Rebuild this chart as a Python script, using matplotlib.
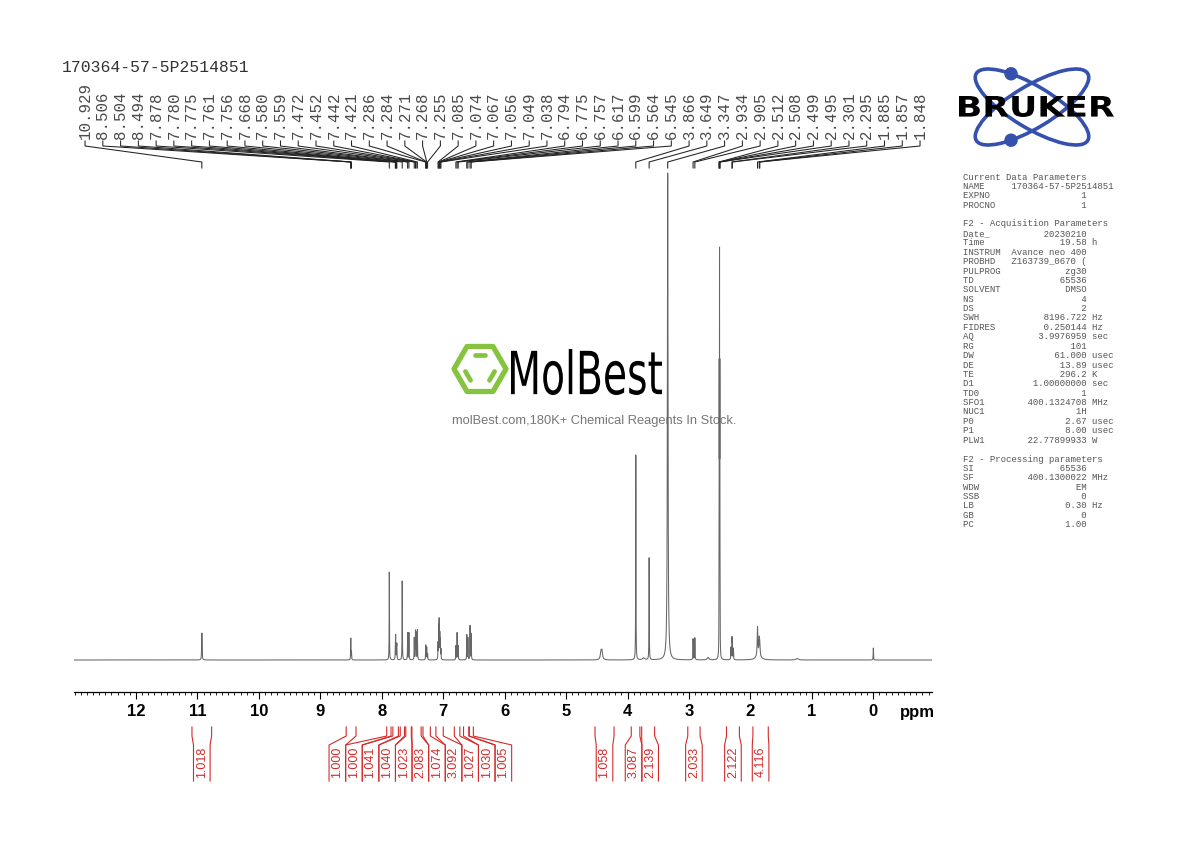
import numpy as np
import matplotlib
matplotlib.use("Agg")
import matplotlib.pyplot as plt
from matplotlib.patches import Ellipse, Circle, Polygon, PathPatch
from matplotlib.textpath import TextPath
from matplotlib.font_manager import FontProperties
from matplotlib.transforms import Affine2D
from matplotlib.ticker import MultipleLocator

W, H = 1190, 842
SAMPLE = "170364-57-5P2514851"

# ---------------------------------------------------------------------------
# data
# ---------------------------------------------------------------------------
# peak-picking labels along the top (ppm)
peak_labels = [10.929, 8.506, 8.504, 8.494, 7.878, 7.780, 7.775, 7.761, 7.756,
               7.668, 7.580, 7.559, 7.472, 7.452, 7.442, 7.421, 7.286, 7.284,
               7.271, 7.268, 7.255, 7.085, 7.074, 7.067, 7.056, 7.049, 7.038,
               6.794, 6.775, 6.757, 6.617, 6.599, 6.564, 6.545, 3.866, 3.649,
               3.347, 2.934, 2.905, 2.512, 2.508, 2.499, 2.495, 2.301, 2.295,
               1.885, 1.857, 1.848]

# spectrum lines: shift (ppm), height (arb.), half width (ppm)
line_ppm = [10.929, 8.506, 8.504, 8.494, 7.878, 7.780, 7.775, 7.761, 7.756,
            7.668, 7.580, 7.559, 7.472, 7.452, 7.442, 7.421, 7.286, 7.284,
            7.271, 7.268, 7.255, 7.085, 7.074, 7.067, 7.056, 7.049, 7.038,
            6.794, 6.775, 6.757, 6.617, 6.599, 6.564, 6.545,
            4.433, 4.418, 3.866, 3.740, 3.649, 3.347, 2.934, 2.905, 2.690,
            2.512, 2.508, 2.5035, 2.499, 2.495, 2.318, 2.301, 2.295, 2.278,
            1.885, 1.870, 1.857, 1.848, 1.240, 0.000]
line_height = [27, 13, 12, 8, 88, 14, 22, 12, 14,
               79, 27, 27, 22, 28, 26, 30, 9, 8,
               9, 8, 6, 16, 30, 37, 24, 18, 10,
               14, 27, 14, 25, 22, 34, 26,
               7, 8, 205, 2, 102, 487, 21, 22, 2.5,
               60, 250, 360, 250, 60, 12, 20, 14, 11,
               28, 5, 15, 10, 1.5, 12]
line_width = [0.004] + [0.0025] * 33 + \
             [0.012, 0.012, 0.0025, 0.02, 0.0025, 0.006, 0.003, 0.003, 0.015,
              0.0015, 0.0015, 0.0015, 0.0015, 0.0015, 0.003, 0.003, 0.003, 0.003,
              0.006, 0.04, 0.006, 0.006, 0.02, 0.003]

# integrals: region edges (ppm) and value
int_left = [11.09, 8.58, 7.92, 7.82, 7.70, 7.61, 7.51, 7.33, 7.12, 6.82, 6.67, 6.575,
            4.53, 3.94, 3.77, 3.02, 2.39, 1.96]
int_right = [10.77, 8.42, 7.85, 7.73, 7.63, 7.52, 7.36, 7.21, 7.00, 6.73, 6.585, 6.51,
             4.22, 3.80, 3.56, 2.82, 2.18, 1.71]
int_value = ["1.018", "1.000", "1.000", "1.041", "1.040", "1.023", "2.083", "1.074",
             "3.092", "1.027", "1.030", "1.005", "1.058", "3.087", "2.139", "2.033",
             "2.122", "4.116"]

tick_values = list(range(12, -1, -1))

params = [
    ("Current Data Parameters", None, None),
    ("NAME", SAMPLE, ""), ("EXPNO", "1", ""), ("PROCNO", "1", ""),
    ("", None, None),
    ("F2 - Acquisition Parameters", None, None),
    ("Date_", "20230210", ""), ("Time", "19.58", "h"),
    ("INSTRUM", "Avance neo 400", ""), ("PROBHD", "Z163739_0670 (", ""),
    ("PULPROG", "zg30", ""), ("TD", "65536", ""), ("SOLVENT", "DMSO", ""),
    ("NS", "4", ""), ("DS", "2", ""), ("SWH", "8196.722", "Hz"),
    ("FIDRES", "0.250144", "Hz"), ("AQ", "3.9976959", "sec"), ("RG", "101", ""),
    ("DW", "61.000", "usec"), ("DE", "13.89", "usec"), ("TE", "296.2", "K"),
    ("D1", "1.00000000", "sec"), ("TD0", "1", ""), ("SFO1", "400.1324708", "MHz"),
    ("NUC1", "1H", ""), ("P0", "2.67", "usec"), ("P1", "8.00", "usec"),
    ("PLW1", "22.77899933", "W"),
    ("", None, None),
    ("F2 - Processing parameters", None, None),
    ("SI", "65536", ""), ("SF", "400.1300022", "MHz"), ("WDW", "EM", ""),
    ("SSB", "0", ""), ("LB", "0.30", "Hz"), ("GB", "0", ""), ("PC", "1.00", ""),
]

MONO = "Liberation Mono"
SANS = "Liberation Sans"
RED = "#d42a2a"

fig = plt.figure(figsize=(W / 100, H / 100), dpi=100)

# decoration layer in pixel coordinates
deco = fig.add_axes([0, 0, 1, 1])
deco.set_xlim(0, W)
deco.set_ylim(H, 0)
deco.axis("off")
deco.set_zorder(1)

# spectrum axes
X0, X1, YB, YT = 74, 931.7, 692, 60
ax = fig.add_axes([X0 / W, (H - YB) / H, (X1 - X0) / W, (YB - YT) / H])
ax.set_zorder(2)
ax.patch.set_alpha(0)
ax.set_xlim(13.01, -0.95)
ax.set_ylim(-32, 600)


def ypx(p):
    # pixel row -> data y (baseline sits at row 660)
    return 660 - p


# ---- spectrum ------------------------------------------------------------
x = np.linspace(13.01, -0.95, 90000)
y = np.zeros_like(x)
for p, h, w in zip(line_ppm, line_height, line_width):
    y += h / (1 + ((x - p) / w) ** 2)
ax.plot(x, y, color="#666666", lw=0.75)

for s in ("top", "left", "right"):
    ax.spines[s].set_visible(False)
ax.spines["bottom"].set_linewidth(0.9)
ax.set_yticks([])
ax.set_xticks(tick_values)
ax.set_xticklabels([str(t) for t in tick_values], fontfamily=SANS, fontweight="bold")
ax.xaxis.set_minor_locator(MultipleLocator(0.1))
ax.tick_params(axis="x", which="major", direction="out", length=5, width=0.8,
               labelsize=12, pad=3.5)
ax.tick_params(axis="x", which="minor", direction="out", length=2.5, width=0.6)
deco.text(917, 712, "ppm", fontsize=12, fontweight="bold", family=SANS,
          ha="center", va="center")

# ---- peak labels -----------------------------------------------------------
lab_x = np.linspace(12.83, -0.76, len(peak_labels))
for lx, p in zip(lab_x, peak_labels):
    ax.text(lx, ypx(139), f"{p:.3f}", rotation=90, ha="center", va="bottom",
            fontsize=11.3, family=MONO, color="#4a4a4a")
    ax.plot([lx, lx, p, p], [ypx(141), ypx(146), ypx(162), ypx(168)],
            color="#222222", lw=0.75, clip_on=False)

# ---- integrals -------------------------------------------------------------
gap = 16.6 / 61.44
centers = [-(a + b) / 2 for a, b in zip(int_left, int_right)]


def spread(c, g):
    groups = [[i] for i in range(len(c))]

    def first(gr):
        return np.mean([c[i] for i in gr]) - (len(gr) - 1) / 2 * g

    merged = True
    while merged:
        merged = False
        for k in range(len(groups) - 1):
            last = first(groups[k]) + (len(groups[k]) - 1) * g
            if first(groups[k + 1]) - last < g - 1e-9:
                groups[k] = groups[k] + groups[k + 1]
                del groups[k + 1]
                merged = True
                break
    out = []
    for gr in groups:
        f = first(gr)
        out += [f + j * g for j in range(len(gr))]
    return out


slots = [-u for u in spread(centers, gap)]
for a, b, s, v in zip(int_left, int_right, slots, int_value):
    for edge, se in ((a, s + gap / 2), (b, s - gap / 2)):
        ax.plot([edge, edge, se, se], [ypx(727), ypx(736), ypx(745), ypx(781)],
                color=RED, lw=0.8, clip_on=False)
    ax.text(s, ypx(762), v, rotation=90, ha="center", va="center",
            fontsize=9, family=SANS, color=RED)

# ---- title & parameter block ----------------------------------------------
deco.text(62, 68, SAMPLE, fontsize=11.8, family=MONO, color="#333333",
          ha="left", va="center")
for i, (name, val, unit) in enumerate(params):
    if val is None:
        line = name
    else:
        line = f"{name:<9}{val:>14}" + (f" {unit}" if unit else "")
    deco.text(963, 177 + i * 9.4, line, fontsize=6.5, family=MONO,
              color="#555555", ha="left", va="center")

# ---- Bruker logo -----------------------------------------------------------
BLUE = "#3550ad"
cx, cy, ea, eb, th = 1032, 107, 65, 21, 31
for ang in (th, -th):
    deco.add_patch(Ellipse((cx, cy), 2 * ea, 2 * eb, angle=ang, fill=False,
                           ec=BLUE, lw=2.6))
t = np.linspace(0, 2 * np.pi, 2000)
for ang, pick in ((th, np.argmin), (-th, np.argmax)):
    r = np.radians(ang)
    ex = cx + ea * np.cos(t) * np.cos(r) - eb * np.sin(t) * np.sin(r)
    ey = cy + ea * np.cos(t) * np.sin(r) + eb * np.sin(t) * np.cos(r)
    near = np.abs(ex - (cx - 20)) < 1.0
    idx = np.where(near)[0]
    j = idx[pick(ey[idx])]
    deco.add_patch(Circle((ex[j], ey[j]), 6, color=BLUE))


def text_box(s, box, prop, color):
    tp = TextPath((0, 0), s, size=1, prop=prop)
    bb = tp.get_extents()
    x0, y0, x1, y1 = box
    tr = (Affine2D().translate(-bb.x0, -bb.y0)
          .scale((x1 - x0) / bb.width, -(y1 - y0) / bb.height)
          .translate(x0, y1))
    deco.add_patch(PathPatch(tr.transform_path(tp), fc=color, lw=0))


text_box("BRUKER", (959, 96, 1114, 117),
         FontProperties(family="DejaVu Sans", weight="bold"), "black")

# ---- MolBest watermark -----------------------------------------------------
GREEN = "#86c440"
hx, hy, hr = 480, 369, 26
angs = np.radians(np.arange(0, 360, 60))
deco.add_patch(Polygon(np.c_[hx + hr * np.cos(angs), hy + hr * np.sin(angs)],
                       closed=True, fill=False, ec=GREEN, lw=3.8, joinstyle="round"))
ir = 16
for a0, a1 in ((240, 300), (120, 180), (0, 60)):
    p0 = np.array([hx + ir * np.cos(np.radians(a0)), hy + ir * np.sin(np.radians(a0))])
    p1 = np.array([hx + ir * np.cos(np.radians(a1)), hy + ir * np.sin(np.radians(a1))])
    q0, q1 = p0 + 0.18 * (p1 - p0), p1 - 0.18 * (p1 - p0)
    deco.plot([q0[0], q1[0]], [q0[1], q1[1]], color=GREEN, lw=3.4,
              solid_capstyle="round")
text_box("MolBest", (511, 349, 662, 395), FontProperties(family="DejaVu Sans"),
         "black")
deco.text(594, 421, "molBest.com,180K+ Chemical Reagents In Stock.", fontsize=9.3,
          family=SANS, color="#777777", ha="center", va="center")

fig.savefig("out.png", dpi=100)
